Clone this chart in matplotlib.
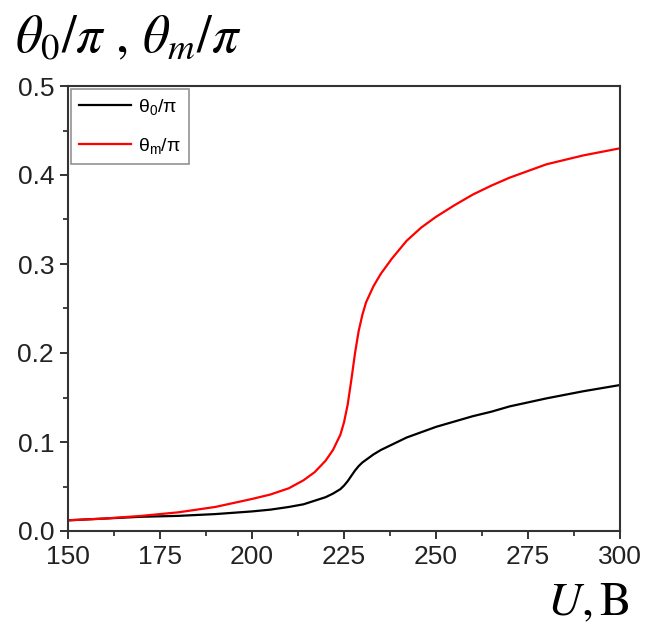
import matplotlib
matplotlib.use("Agg")
import matplotlib.pyplot as plt
from matplotlib.ticker import MultipleLocator

U = [150, 160, 170, 180, 190, 200, 205, 210, 214, 217, 220, 222, 224, 225, 226, 227,
     228, 229, 230, 231, 233, 235, 238, 242, 246, 250, 255, 260, 265, 270, 280, 290, 300]
theta_m = [0.012, 0.014, 0.017, 0.021, 0.027, 0.036, 0.041, 0.048, 0.057, 0.066,
           0.079, 0.091, 0.108, 0.122, 0.142, 0.170, 0.200, 0.225, 0.243, 0.257,
           0.275, 0.289, 0.306, 0.326, 0.341, 0.353, 0.366, 0.378, 0.388, 0.397,
           0.412, 0.422, 0.430]
theta_0 = [0.012, 0.014, 0.016, 0.017, 0.019, 0.022, 0.024, 0.027, 0.030, 0.034,
           0.038, 0.042, 0.047, 0.051, 0.056, 0.062, 0.068, 0.073, 0.077, 0.080,
           0.086, 0.091, 0.097, 0.105, 0.111, 0.117, 0.123, 0.129, 0.134, 0.140,
           0.149, 0.157, 0.164]
xticks = [150, 175, 200, 225, 250, 275, 300]
yticks = [0.0, 0.1, 0.2, 0.3, 0.4, 0.5]

plt.rcParams['font.family'] = ['Liberation Sans', 'DejaVu Sans']
plt.rcParams['mathtext.fontset'] = 'stix'

fig = plt.figure(figsize=(6.45, 6.35), dpi=100)
ax = fig.add_axes([68/645, 1-531/635, (620-68)/645, (531-86)/635])

ax.plot(U, theta_0, color='black', lw=1.6, label=r'$\mathregular{\theta_0/\pi}$')
ax.plot(U, theta_m, color='#ff0000', lw=1.6, label=r'$\mathregular{\theta_m/\pi}$')

ax.set_xlim(150, 300)
ax.set_ylim(0, 0.5)
ax.set_xticks(xticks)
ax.set_yticks(yticks)
ax.set_xticklabels([str(v) for v in xticks])
ax.set_yticklabels([f"{v:.1f}" for v in yticks])
ax.xaxis.set_minor_locator(MultipleLocator(12.5))
ax.yaxis.set_minor_locator(MultipleLocator(0.05))
ax.tick_params(which='major', direction='out', length=6, width=1.3, labelsize=19, colors='#222222', pad=4)
ax.tick_params(which='minor', direction='out', length=3.5, width=1.2, colors='#222222')
ax.tick_params(top=False, right=False, which='both')
for s in ax.spines.values():
    s.set_linewidth(1.5)
    s.set_color('#333333')

leg = ax.legend(loc='upper left', fontsize=14, frameon=True, fancybox=False,
                edgecolor='#777777', borderaxespad=0.15, handlelength=2.7,
                handletextpad=0.35, borderpad=0.4, labelspacing=1.0)
leg.get_frame().set_linewidth(1.2)

fig.text(15/645, 1-38/635, r'$\theta_0/\pi\ ,\,\theta_m/\pi$', fontsize=38, va='center', ha='left')
fig.text(630/645, 1-603/635, r'$U,\mathrm{B}$', fontsize=34, va='center', ha='right')

fig.savefig('out.png', dpi=100)
